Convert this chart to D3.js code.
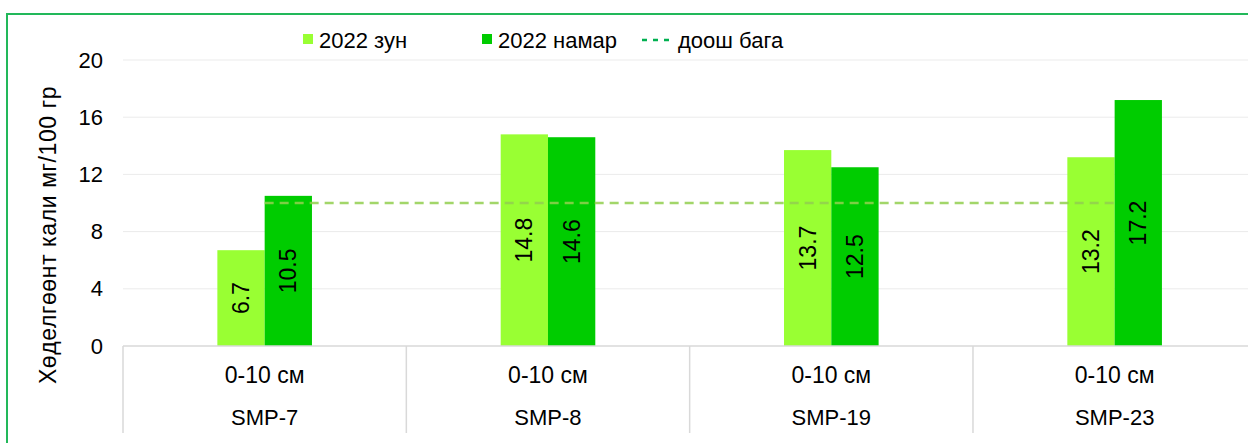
<!DOCTYPE html>
<html>
<head>
<meta charset="utf-8">
<script src="https://cdn.jsdelivr.net/npm/d3@7"></script>
<style>
  html, body { margin: 0; padding: 0; background: #fff; }
  svg { display: block; font-family: "Liberation Sans", Arial, sans-serif; }
</style>
</head>
<body>
<svg id="chart" width="1248" height="443"></svg>
<script>
const sites = ["SMP-7", "SMP-8", "SMP-19", "SMP-23"];
const depths = ["0-10 см", "0-10 см", "0-10 см", "0-10 см"];
const seriesNames = ["2022 зун", "2022 намар"];
const summer = [6.7, 14.8, 13.7, 13.2];
const autumn = [10.5, 14.6, 12.5, 17.2];
const threshold = 10;
const thresholdName = "доош бага";
const yTicks = [0, 4, 8, 12, 16, 20];
const yLabel = "Хөделгөөнт кали мг/100 гр";

(function () {
const colors = ["#99ff33", "#00cc00"];
const svg = d3.select("#chart");
const W = 1248, H = 443;
const pLeft = 123, pRight = 1256.3, pTop = 60, pBottom = 346;

// border
svg.append("path").attr("d", `M7,${H+2} L7,14 L${W+2},14`)
  .attr("fill", "none").attr("stroke", "#22b85a").attr("stroke-width", 2);

const x = d3.scaleBand().domain(sites).range([pLeft, pRight]).padding(0);
const barW = 47.3;
const y = d3.scaleLinear().domain([0, 20]).range([pBottom, pTop]);

// gridlines
svg.append("g").selectAll("line").data(yTicks.filter(d => d > 0)).join("line")
  .attr("x1", pLeft).attr("x2", W).attr("y1", d => y(d)).attr("y2", d => y(d))
  .attr("stroke", "#ebebeb").attr("stroke-width", 1);

// y tick labels
svg.append("g").selectAll("text").data(yTicks).join("text")
  .attr("x", 103).attr("y", d => y(d)).attr("text-anchor", "end")
  .attr("dominant-baseline", "central").attr("font-size", 22).attr("fill", "#000")
  .text(d => d);

// y label
svg.append("text").attr("transform", "translate(48,235) rotate(-90)")
  .attr("text-anchor", "middle").attr("dominant-baseline", "central")
  .attr("font-size", 23).attr("letter-spacing", 0.6).attr("fill", "#000").text(yLabel);

// bars
const data = sites.map((s, i) => ({ site: s, vals: [summer[i], autumn[i]] }));
const groups = svg.append("g").selectAll("g").data(data).join("g");
groups.each(function(d) {
  const cx = x(d.site) + x.bandwidth() / 2;
  const inner = d3.scaleBand().domain([0, 1]).range([cx - barW, cx + barW]).padding(0);
  const g = d3.select(this);
  d.vals.forEach((v, k) => {
    g.append("rect").attr("x", inner(k)).attr("width", inner.bandwidth())
      .attr("y", y(v)).attr("height", y(0) - y(v)).attr("fill", colors[k]);
  });
  d.vals.forEach((v, k) => {
    const lx = inner(k) + inner.bandwidth() / 2;
    const ly = (y(v) + y(0)) / 2;
    g.append("text").attr("transform", `translate(${lx},${ly}) rotate(-90)`)
      .attr("text-anchor", "middle").attr("dominant-baseline", "central")
      .attr("font-size", 23).attr("fill", "#000").text(v.toFixed(1));
  });
});

// threshold line
const c0 = x(sites[0]) + x.bandwidth() / 2;
const c1 = x(sites[sites.length - 1]) + x.bandwidth() / 2;
svg.append("line").attr("x1", c0).attr("x2", c1)
  .attr("y1", y(threshold)).attr("y2", y(threshold))
  .attr("stroke", "#92d050").attr("stroke-width", 2.5)
  .attr("stroke-dasharray", "9,6").attr("opacity", 0.85);

// axis baseline
svg.append("line").attr("x1", pLeft).attr("x2", W).attr("y1", pBottom).attr("y2", pBottom)
  .attr("stroke", "#d9d9d9").attr("stroke-width", 1.5);

// category separators
const seps = sites.map(s => x(s)).concat([pRight]);
svg.append("g").selectAll("line").data(seps).join("line")
  .attr("x1", d => d).attr("x2", d => d).attr("y1", pBottom).attr("y2", 433)
  .attr("stroke", "#d9d9d9").attr("stroke-width", 1.5);

// category labels
svg.append("g").selectAll("text").data(depths).join("text")
  .attr("x", (d, i) => x(sites[i]) + x.bandwidth() / 2).attr("y", 375)
  .attr("text-anchor", "middle").attr("dominant-baseline", "central")
  .attr("font-size", 23).attr("fill", "#000").text(d => d);
svg.append("g").selectAll("text").data(sites).join("text")
  .attr("x", d => x(d) + x.bandwidth() / 2).attr("y", 417)
  .attr("text-anchor", "middle").attr("dominant-baseline", "central")
  .attr("font-size", 22).attr("fill", "#000").text(d => d);

// legend
const leg = svg.append("g");
const legX = [303, 482];
seriesNames.forEach((n, k) => {
  leg.append("rect").attr("x", legX[k]).attr("y", 34).attr("width", 10).attr("height", 10).attr("fill", colors[k]);
  leg.append("text").attr("x", legX[k] + 16).attr("y", 40).attr("dominant-baseline", "central")
    .attr("font-size", 22).attr("fill", "#000").text(n);
});
leg.append("line").attr("x1", 642).attr("x2", 673).attr("y1", 40).attr("y2", 40)
  .attr("stroke", "#00b050").attr("stroke-width", 2.5).attr("stroke-dasharray", "5,6");
leg.append("text").attr("x", 678).attr("y", 40).attr("dominant-baseline", "central")
  .attr("font-size", 22).attr("fill", "#000").text(thresholdName);
})();
</script>
</body>
</html>
